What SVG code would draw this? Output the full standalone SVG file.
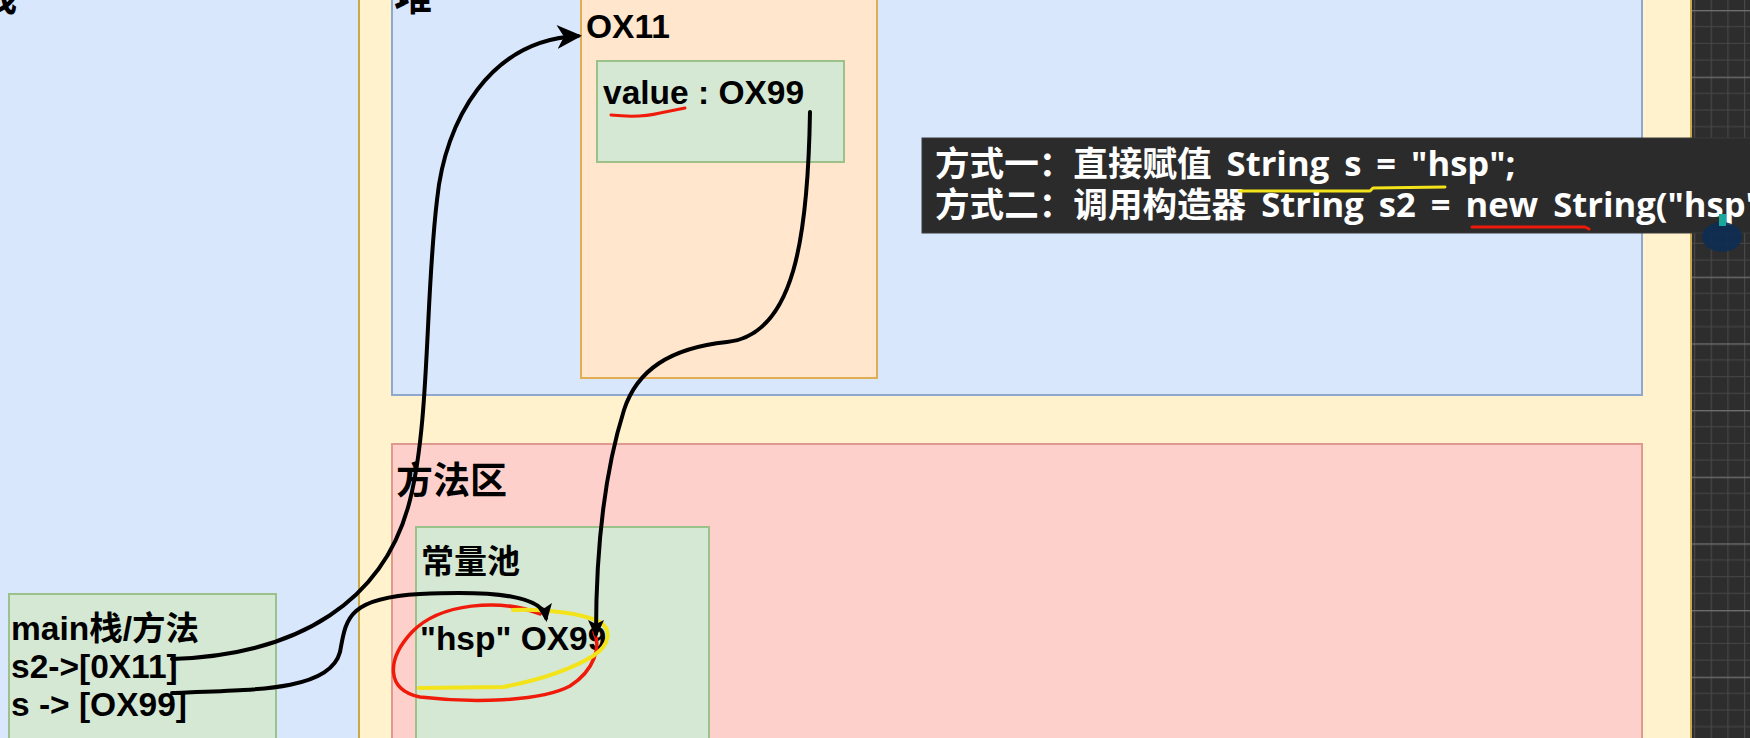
<svg xmlns="http://www.w3.org/2000/svg" width="1750" height="738" viewBox="0 0 1750 738">
<defs>
<style>
.lbl{font-family:"Liberation Sans","Noto Sans CJK SC",sans-serif;font-weight:bold;fill:#000;font-size:33.5px;}
.cjk{font-family:"Noto Sans CJK SC",sans-serif;font-weight:bold;fill:#000;}
.note{font-family:"Open Sans","Noto Sans CJK SC",sans-serif;font-weight:bold;fill:#fff;font-size:34.6px;word-spacing:6px;}
.conn{fill:none;stroke:#000;stroke-width:4;stroke-linecap:round;}
.blue{fill:#d9e7fc;stroke:#8ea8cf;stroke-width:2;}
.green{fill:#d5e8d4;stroke:#9cc28a;stroke-width:2;}
.pen{fill:none;stroke-linecap:round;stroke-linejoin:round;}
</style>
<marker id="bigArrow" markerUnits="userSpaceOnUse" viewBox="0 0 25 24" refX="21" refY="12" markerWidth="25" markerHeight="24" orient="auto"><path d="M0,0 L25,12 L0,24 L7,12 Z" fill="#000"/></marker>
<marker id="smallArrow" markerUnits="userSpaceOnUse" viewBox="0 0 18 16" refX="14" refY="8" markerWidth="18" markerHeight="16" orient="auto"><path d="M0,0 L18,8 L0,16 L4,8 Z" fill="#000"/></marker>
<pattern id="grid" patternUnits="userSpaceOnUse" x="1694" y="10" width="16.67" height="66.67">
<rect width="16.67" height="66.67" fill="#2d2d2d"/>
<path d="M0,16.67 H16.67 M0,33.33 H16.67 M0,50 H16.67" stroke="#474747" stroke-width="1.2"/>
<path d="M0.6,0 V66.67" stroke="#474747" stroke-width="1.2"/>
<path d="M0,0.6 H16.67" stroke="#6e6e6e" stroke-width="1.5"/>
</pattern>
</defs>

<g id="canvas-grid"><rect x="1691" y="0" width="59" height="738" fill="url(#grid)"/></g>

<g id="stack">
<rect class="blue" x="-10" y="-10" width="369" height="760"/>
<text class="cjk" x="-21" y="10" font-size="38">栈</text>
</g>

<g id="memory">
<rect x="359" y="-10" width="1332" height="760" fill="#fff2cc" stroke="#c9a94a" stroke-width="2"/>
</g>

<g id="heap">
<rect class="blue" x="392" y="-10" width="1250" height="405"/>
<text class="cjk" x="394" y="10" font-size="38">堆</text>
</g>

<g id="obj-ox11">
<rect x="581" y="-10" width="296" height="388" fill="#ffe6cc" stroke="#e0ad55" stroke-width="2"/>
<text class="lbl" x="586" y="38" font-size="32">OX11</text>
</g>

<g id="value-box">
<rect class="green" x="597" y="61" width="247" height="101"/>
<text class="lbl" x="603" y="104" font-size="33">value : OX99</text>
</g>

<g id="method-area">
<rect x="392" y="444" width="1250" height="310" fill="#fdd0cc" stroke="#e0998f" stroke-width="2"/>
<text class="cjk" x="396" y="494" font-size="37">方法区</text>
</g>

<g id="constant-pool">
<rect class="green" x="416" y="527" width="293" height="230"/>
<text class="cjk" x="421" y="573" font-size="33">常量池</text>
<text class="lbl" x="420" y="650" font-size="34">"hsp" OX99</text>
</g>

<g id="main-stack">
<rect class="green" x="9" y="594" width="267" height="160"/>
<text class="lbl" x="11" y="640">main栈/方法</text>
<text class="lbl" x="11" y="678">s2-&gt;[0X11]</text>
<text class="lbl" x="11" y="716">s -&gt; [OX99]</text>
</g>

<g id="note">
<rect x="922" y="138" width="830" height="95" fill="#2b2b2b" stroke="#3a3a3a" stroke-width="1"/>
<text class="note" x="935" y="176">方式一：直接赋值 String s = "hsp";</text>
<text class="note" x="935" y="217">方式二：调用构造器 String s2 = new String("hsp")</text>
</g>

<g id="annotations">
<path class="pen" d="M540,614 C 500,598 440,603 412,632 C 386,660 386,690 420,697 C 470,703 540,702 570,686 C 595,670 601,646 594,632" stroke="#f01a0a" stroke-width="3.5"/>
<path class="pen" d="M419,688 L503,687 C 540,680 570,670 593,656 C 610,645 612,630 600,622 C 582,613 545,609 513,610" stroke="#f3e31a" stroke-width="4"/>
<path class="pen" d="M611,115 C 630,117 648,116 660,113 L685,108" stroke="#f01a0a" stroke-width="3"/>
<path class="pen" d="M1239,191 L1370,191 L1373,188 L1445,187" stroke="#f3e31a" stroke-width="3"/>
<path class="pen" d="M1472,227 L1585,227 L1589,229" stroke="#f01a0a" stroke-width="3"/>
<ellipse cx="1722" cy="237" rx="20" ry="15" fill="#0d2c52" opacity="0.9"/>
<path d="M1719,214 L1726,214 L1726,226 L1719,226 Z" fill="#1aa89a"/>
</g>

<g id="connectors">
<path class="conn" d="M172,659 C 300,655 385,600 410,500 C 430,420 425,300 437,200 C 445,120 490,40 578,36" marker-end="url(#bigArrow)"/>
<path class="conn" d="M172,693 C 260,690 330,690 340,652 C 346,620 346,598 420,594 C 500,590 543,597 546,618" marker-end="url(#smallArrow)"/>
<path class="conn" d="M810,112 C 808,235 795,335 727,342 C 670,348 637,370 624,410 C 602,480 596,560 596,634" marker-end="url(#smallArrow)"/>
</g>
</svg>
